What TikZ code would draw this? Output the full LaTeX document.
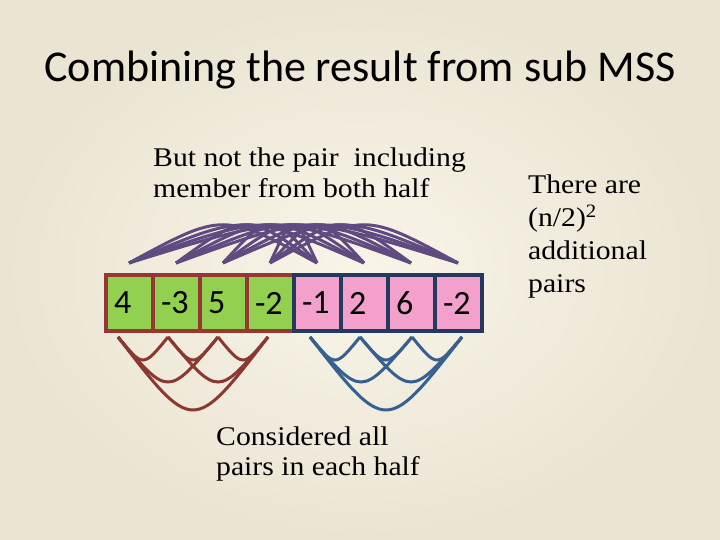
\documentclass[tikz,border=0pt]{standalone}
\usepackage{fontspec}
\setmainfont[FakeStretch=1.1]{Liberation Serif}
\newfontfamily\calibri{Carlito}
\usetikzlibrary{calc}
\definecolor{bgin}{RGB}{248,245,233}
\definecolor{bgout}{RGB}{234,228,210}
\definecolor{cellgreen}{RGB}{146,208,80}
\definecolor{cellpink}{RGB}{244,160,204}
\definecolor{leftframe}{RGB}{149,55,53}
\definecolor{rightframe}{RGB}{35,57,93}
\definecolor{crossarc}{RGB}{96,75,128}
\definecolor{leftarc}{RGB}{140,56,50}
\definecolor{rightarc}{RGB}{55,96,146}
\tikzset{
  cellbox/.style={draw, line width=4pt, minimum width=47pt, minimum height=56pt,
    text width=30pt, align=left, inner xsep=8.5pt, inner ysep=0pt,
    font=\calibri\fontsize{34}{38}\selectfont},
  leftcell/.style={cellbox, fill=cellgreen, draw=leftframe},
  rightcell/.style={cellbox, fill=cellpink, draw=rightframe},
  crossline/.style={draw=crossarc, line width=3pt},
  lefthalf/.style={draw=leftarc, line width=3pt},
  righthalf/.style={draw=rightarc, line width=3pt},
  bodytext/.style={inner sep=0pt, anchor=north west, align=left}
}
\begin{document}
\begin{tikzpicture}[x=1pt,y=-1pt]
\useasboundingbox (0,0) rectangle (720,540);
\shade[inner color=bgin, outer color=bgout] (0,0) rectangle (720,540);

\node[font=\calibri\fontsize{44}{50}\selectfont, anchor=base, inner sep=0pt] (title) at (360,82) {Combining the result from sub MSS};

\node[bodytext, font=\fontsize{27}{31}\selectfont] (top) at (153,148) {But not the pair~ including\\member from both half};
\node[bodytext, font=\fontsize{27}{30}\selectfont] (bottom) at (216,427) {Considered all\\pairs in each half};
\node[bodytext, font=\fontsize{27}{33}\selectfont] (side) at (528,175) {There are\\(n/2)\textsuperscript{2}\\additional\\pairs};

% cells
\node[leftcell] (c1) at (129,303) {4};
\node[leftcell] (c2) at (176,303) {-3};
\node[leftcell] (c3) at (223,303) {5};
\node[leftcell] (c4) at (270,303) {-2};
\node[rightcell] (c5) at (317,303) {-1};
\node[rightcell] (c6) at (364,303) {2};
\node[rightcell] (c7) at (411,303) {6};
\node[rightcell] (c8) at (458,303) {-2};

% arc end points
\foreach \i in {1,...,8} {
  \coordinate (t\i) at ([yshift=10pt]c\i.north);
}
\coordinate (b1) at ([xshift=-11pt,yshift=-4pt]c1.south);
\coordinate (b2) at ([xshift=-8pt,yshift=-4pt]c2.south);
\coordinate (b3) at ([xshift=-5pt,yshift=-4pt]c3.south);
\coordinate (b4) at ([xshift=-2pt,yshift=-4pt]c4.south);
\coordinate (b5) at ([xshift=-7pt,yshift=-4pt]c5.south);
\coordinate (b6) at ([xshift=-4pt,yshift=-4pt]c6.south);
\coordinate (b7) at ([xshift=1pt,yshift=-4pt]c7.south);
\coordinate (b8) at ([xshift=4pt,yshift=-4pt]c8.south);

% pairs across the halves
\foreach \i in {1,...,4} {
  \foreach \j in {5,...,8} {
    \draw[crossline] (t\i) .. controls ($(t\i)!0.5!(t\j)+(0,-51)$) .. (t\j);
  }
}

% pairs within each half
\foreach \i/\j/\d in {1/2/23,2/3/23,3/4/23,1/3/45,2/4/45,1/4/73} {
  \draw[lefthalf] (b\i) .. controls ($(b\i)!0.5!(b\j)+(0,1.333*\d)$) .. (b\j);
}
\foreach \i/\j/\d in {5/6/23,6/7/23,7/8/23,5/7/45,6/8/45,5/8/73} {
  \draw[righthalf] (b\i) .. controls ($(b\i)!0.5!(b\j)+(0,1.333*\d)$) .. (b\j);
}
\end{tikzpicture}
\end{document}
